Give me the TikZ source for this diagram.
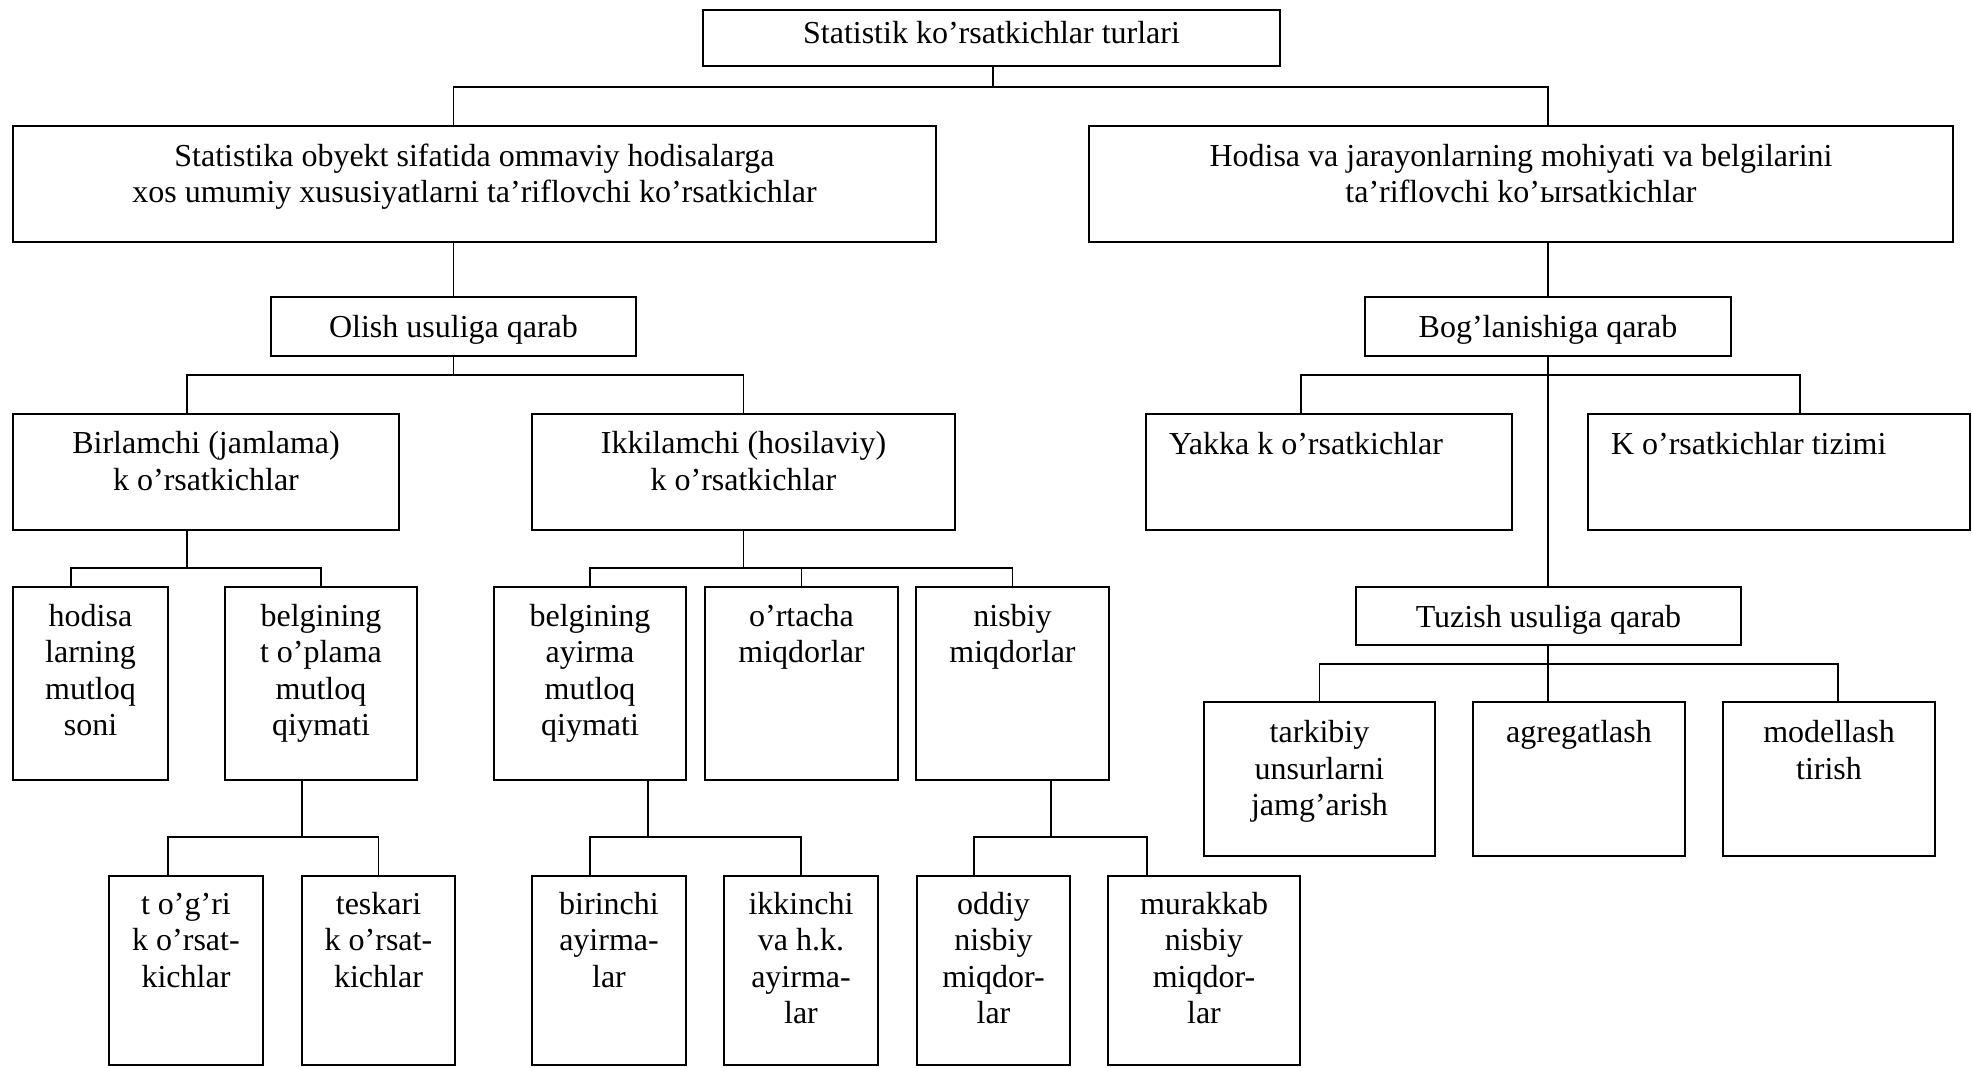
\documentclass[tikz,border=0pt]{standalone}
\usepackage{fontspec}
\setmainfont{Liberation Serif}
\usetikzlibrary{calc,fit}
\begin{document}
\begin{tikzpicture}[x=0.5pt,y=-0.5pt,
  box/.style={draw, line width=1pt, inner sep=0pt, outer sep=0pt},
  conn/.style={line width=0.8pt},
  lbl/.style={anchor=north, inner sep=0pt, outer sep=0pt, align=center, font=\fontsize{16}{18.25}\selectfont},
  lbll/.style={lbl, anchor=north west, align=left},
]
\useasboundingbox (0,0) rectangle (1972,1067);

% boxes
\node[box, fit={(703,10)(1280,66)}] (top) {};
\node[box, fit={(13,126)(936,242)}] (A) {};
\node[box, fit={(1089,126)(1953,242)}] (B) {};
\node[box, fit={(271,297)(636,356)}] (olish) {};
\node[box, fit={(1365,297)(1731,356)}] (bog) {};
\node[box, fit={(13,414)(399,530)}] (birl) {};
\node[box, fit={(532,414)(955,530)}] (ikki) {};
\node[box, fit={(1146,414)(1512,530)}] (yakka) {};
\node[box, fit={(1588,414)(1970,530)}] (tizim) {};
\node[box, fit={(13,587)(168,780)}] (hodisa) {};
\node[box, fit={(225,587)(417,780)}] (belg1) {};
\node[box, fit={(494,587)(686,780)}] (belg2) {};
\node[box, fit={(705,587)(898,780)}] (ortacha) {};
\node[box, fit={(916,587)(1109,780)}] (nisbiy) {};
\node[box, fit={(1356,587)(1741,645)}] (tuzish) {};
\node[box, fit={(1204,702)(1435,856)}] (tarkib) {};
\node[box, fit={(1473,702)(1685,856)}] (agreg) {};
\node[box, fit={(1723,702)(1935,856)}] (model) {};
\node[box, fit={(109,876)(263,1065)}] (togri) {};
\node[box, fit={(302,876)(455,1065)}] (teskari) {};
\node[box, fit={(532,876)(686,1065)}] (birinchi) {};
\node[box, fit={(724,876)(878,1065)}] (ikkinchi) {};
\node[box, fit={(917,876)(1070,1065)}] (oddiy) {};
\node[box, fit={(1108,876)(1300,1065)}] (murakkab) {};

% texts
\node[lbl] (top-t) at ($(top.north)+(0,7.5)$) {\strut Statistik ko’rsatkichlar turlari};
\node[lbl] (A-t) at ($(A.north)+(0,14.5)$) {\strut Statistika obyekt sifatida ommaviy hodisalarga\\xos umumiy xususiyatlarni ta’riflovchi ko’rsatkichlar};
\node[lbl] (B-t) at ($(B.north)+(0,14.5)$) {\strut Hodisa va jarayonlarning mohiyati va belgilarini\\ta’riflovchi ko’ыrsatkichlar};
\node[lbl] (olish-t) at ($(olish.north)+(0,15)$) {\strut Olish usuliga qarab};
\node[lbl] (bog-t) at ($(bog.north)+(0,15)$) {\strut Bog’lanishiga qarab};
\node[lbl] (birl-t) at ($(birl.north)+(0,14)$) {\strut Birlamchi (jamlama)\\k o’rsatkichlar};
\node[lbl] (ikki-t) at ($(ikki.north)+(0,14)$) {\strut Ikkilamchi (hosilaviy)\\k o’rsatkichlar};
\node[lbll] (yakka-t) at ($(yakka.north west)+(23,14.5)$) {\strut Yakka k o’rsatkichlar};
\node[lbll] (tizim-t) at ($(tizim.north west)+(23,14.5)$) {\strut K o’rsatkichlar tizimi};
\node[lbl] (hodisa-t) at ($(hodisa.north)+(0,13.5)$) {\strut hodisa\\larning\\mutloq\\soni};
\node[lbl] (belg1-t) at ($(belg1.north)+(0,13.5)$) {\strut belgining\\t o’plama\\mutloq\\qiymati};
\node[lbl] (belg2-t) at ($(belg2.north)+(0,13.5)$) {\strut belgining\\ayirma\\mutloq\\qiymati};
\node[lbl] (ortacha-t) at ($(ortacha.north)+(0,13.5)$) {\strut o’rtacha\\miqdorlar};
\node[lbl] (nisbiy-t) at ($(nisbiy.north)+(0,13.5)$) {\strut nisbiy\\miqdorlar};
\node[lbl] (tuzish-t) at ($(tuzish.north)+(0,14.5)$) {\strut Tuzish usuliga qarab};
\node[lbl] (tarkib-t) at ($(tarkib.north)+(0,15)$) {\strut tarkibiy\\unsurlarni\\jamg’arish};
\node[lbl] (agreg-t) at ($(agreg.north)+(0,15)$) {\strut agregatlash};
\node[lbl] (model-t) at ($(model.north)+(0,15)$) {\strut modellash\\tirish};
\node[lbl] (togri-t) at ($(togri.north)+(0,12.5)$) {\strut t o’g’ri\\k o’rsat-\\kichlar};
\node[lbl] (teskari-t) at ($(teskari.north)+(0,12.5)$) {\strut teskari\\k o’rsat-\\kichlar};
\node[lbl] (birinchi-t) at ($(birinchi.north)+(0,12.5)$) {\strut birinchi\\ayirma-\\lar};
\node[lbl] (ikkinchi-t) at ($(ikkinchi.north)+(0,12.5)$) {\strut ikkinchi\\va h.k.\\ayirma-\\lar};
\node[lbl] (oddiy-t) at ($(oddiy.north)+(0,12.5)$) {\strut oddiy\\nisbiy\\miqdor-\\lar};
\node[lbl] (murakkab-t) at ($(murakkab.north)+(0,12.5)$) {\strut murakkab\\nisbiy\\miqdor-\\lar};

% connectors
\draw[conn] ($(top.south)+(1.5,0)$) -- ++(0,21) coordinate (bus0);
\draw[conn] (A.north -| olish.north) |- (bus0);
\draw[conn] (B.north -| bog.north) |- (bus0);
\draw[conn] (A.south -| olish.north) -- (olish.north);
\draw[conn] (B.south -| bog.north) -- (bog.north);

\draw[conn] (olish.south) -- ++(0,19) coordinate (bus1);
\draw[conn] ($(birl.north)+(-19,0)$) |- (bus1);
\draw[conn] (ikki.north) |- (bus1);

\draw[conn] (bog.south) -- (tuzish.north -| bog.south);
\coordinate (bus2) at ($(bog.south)+(0,19)$);
\draw[conn] ($(yakka.north)+(-28,0)$) |- (bus2);
\draw[conn] ($(tizim.north)+(21,0)$) |- (bus2);

\draw[conn] ($(birl.south)+(-19,0)$) -- ++(0,38) coordinate (bus3);
\draw[conn] ($(hodisa.north)+(-19.5,0)$) |- (bus3);
\draw[conn] (belg1.north) |- (bus3);

\draw[conn] (ikki.south) -- ++(0,38) coordinate (bus4);
\draw[conn] (belg2.north) |- (bus4);
\draw[conn] (ortacha.north) |- (bus4);
\draw[conn] (nisbiy.north) |- (bus4);

\draw[conn] (tuzish.south -| bog.south) -- ++(0,19) coordinate (bus5);
\draw[conn] (tarkib.north) |- (bus5);
\draw[conn] (agreg.north -| bus5) -- (bus5);
\draw[conn] ($(model.north)+(9,0)$) |- (bus5);

\draw[conn] ($(belg1.south)+(-19,0)$) -- ++(0,57) coordinate (bus6);
\draw[conn] ($(togri.north)+(-18,0)$) |- (bus6);
\draw[conn] (teskari.north) |- (bus6);

\draw[conn] ($(belg2.south)+(58,0)$) -- ++(0,57) coordinate (bus7);
\draw[conn] ($(birinchi.north)+(-19,0)$) |- (bus7);
\draw[conn] (ikkinchi.north) |- (bus7);

\draw[conn] ($(nisbiy.south)+(38.5,0)$) -- ++(0,57) coordinate (bus8);
\draw[conn] ($(oddiy.north)+(-19.5,0)$) |- (bus8);
\draw[conn] ($(murakkab.north)+(-57,0)$) |- (bus8);
\end{tikzpicture}
\end{document}
